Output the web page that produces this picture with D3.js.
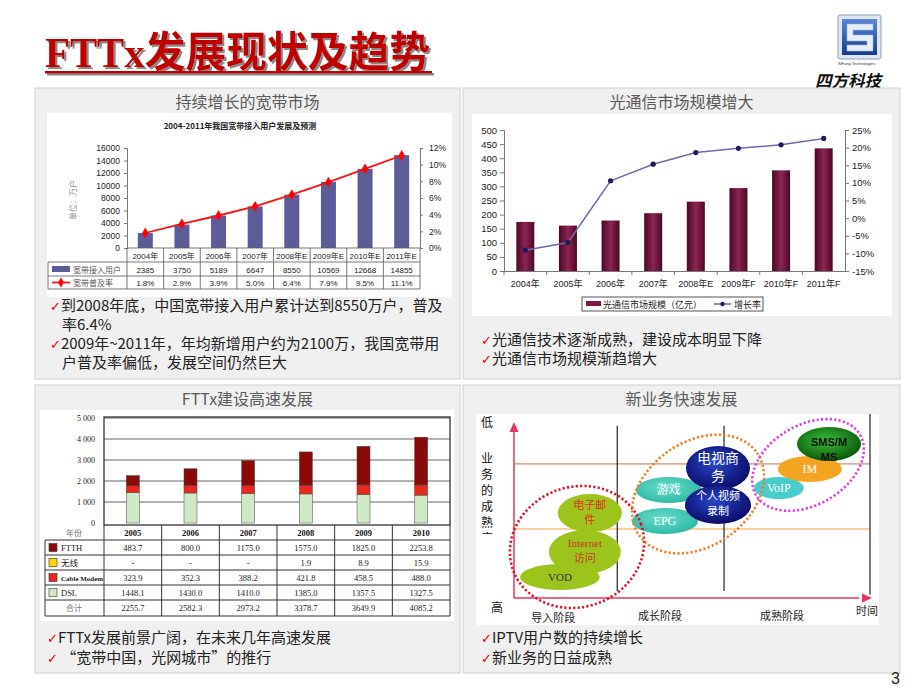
<!DOCTYPE html>
<html>
<head>
<meta charset="utf-8">
<script src="https://cdn.jsdelivr.net/npm/d3@7"></script>
<style>
body { margin: 0; background: #fff; }
svg { display: block; font-family: "Noto Sans CJK SC", sans-serif; }
</style>
</head>
<body>
<div class="render"></div>
<script>
"use strict";

// ---- panel 1: broadband users ----
var bbYears = ["2004年", "2005年", "2006年", "2007年", "2008年E", "2009年E", "2010年E", "2011年E"];
var bbUsers = [2385, 3750, 5189, 6647, 8550, 10569, 12668, 14855];
var bbRate = [1.8, 2.9, 3.9, 5.0, 6.4, 7.9, 9.5, 11.1];
var bbUserTicks = [0, 2000, 4000, 6000, 8000, 10000, 12000, 14000, 16000];
var bbRateTicks = [0, 2, 4, 6, 8, 10, 12];

// ---- panel 2: optical comms market ----
var ocYears = ["2004年", "2005年", "2006年", "2007年", "2008年E", "2009年F", "2010年F", "2011年F"];
var ocMarket = [174, 161, 179, 205, 246, 294, 357, 435];
var ocGrowth = [-9.1, -6.9, 10.6, 15.3, 18.6, 19.8, 20.8, 22.6];
var ocTicks = [0, 50, 100, 150, 200, 250, 300, 350, 400, 450, 500];
var ocGrowthTicks = [-15, -10, -5, 0, 5, 10, 15, 20, 25];

// ---- panel 3: FTTx build-out ----
var fxYears = ["2005", "2006", "2007", "2008", "2009", "2010"];
var fxFtth = [483.7, 800.0, 1175.0, 1575.0, 1825.0, 2253.8];
var fxWireless = [null, null, null, 1.9, 8.9, 15.9];
var fxCable = [323.9, 352.3, 388.2, 421.8, 458.5, 488.0];
var fxDsl = [1448.1, 1430.0, 1410.0, 1385.0, 1357.5, 1327.5];
var fxTotal = [2255.7, 2582.3, 2973.2, 3378.7, 3649.9, 4085.2];
var fxTicks = [0, 1000, 2000, 3000, 4000, 5000];

// ---- panel 4: new services (time stage 0-100, maturity 0-100) ----
var svcNames = ["电子邮件", "Internet访问", "VOD", "EPG", "游戏", "电视商务", "个人视频录制", "VoIP", "IM", "SMS/MMS"];
var svcLines = [["电子邮", "件"], ["Internet", "访问"], ["VOD"], ["EPG"], ["游戏"], ["电视商", "务"], ["个人视频", "录制"], ["VoIP"], ["IM"], ["SMS/M", "MS"]];
var svcStage = [21.3, 19.9, 12.9, 42.4, 43.5, 57.3, 57.3, 74.4, 83.1, 88.5];
var svcMaturity = [49.1, 26.6, 12.1, 44.5, 62.4, 75.1, 53.8, 63.6, 74.6, 89.0];
var svcSpreadX = [9.0, 10.1, 11.2, 9.3, 9.3, 9.0, 9.3, 7.0, 9.0, 9.0];
var svcSpreadY = [11.0, 12.7, 7.5, 7.5, 7.5, 12.7, 11.0, 6.4, 7.5, 9.8];
var stageNames = ["导入阶段", "成长阶段", "成熟阶段"];
var stageLabelAt = [11, 41, 75.3];
var stageBounds = [29, 59, 100];
var maturityLevels = [77.5, 39.9];
var groupStage = [17.7, 51.7, 82.6];
var groupMaturity = [29.5, 60.1, 76.9];
var groupSpreadX = [19.1, 20.2, 16.9];
var groupSpreadY = [34.7, 30.1, 23.1];
var groupTilt = [-20, -35, -30];

var SANS = '"Liberation Sans", "Noto Sans CJK SC", sans-serif';
var SERIF = '"Liberation Serif", "Noto Sans CJK SC", serif';

var svg = d3.select(".render").append("svg").attr("width", 920).attr("height", 690);
var defs = svg.append("defs");

function linGrad(id, stops, vertical) {
   var g = defs.append("linearGradient").attr("id", id)
      .attr("x1", 0).attr("y1", 0).attr("x2", vertical ? 0 : 1).attr("y2", vertical ? 1 : 0);
   stops.forEach(function (s) { g.append("stop").attr("offset", s[0]).attr("stop-color", s[1]); });
}
function radGrad(id, inner, outer) {
   var g = defs.append("radialGradient").attr("id", id).attr("cx", "45%").attr("cy", "40%").attr("r", "60%");
   g.append("stop").attr("offset", "0%").attr("stop-color", inner);
   g.append("stop").attr("offset", "100%").attr("stop-color", outer);
}
linGrad("maroon", [["0%", "#4a0822"], ["50%", "#8e2454"], ["100%", "#4a0822"]]);
linGrad("logoBlue", [["0%", "#5a88d8"], ["100%", "#143a88"]], true);
radGrad("navyBub", "#2a46c8", "#0a0c6a");
radGrad("greenBub", "#3cbf3c", "#0a5a0a");
radGrad("tealBub", "#6adccb", "#2fb9a6");
defs.append("filter").attr("id", "shadow").attr("x", "-5%").attr("y", "-10%").attr("width", "115%").attr("height", "130%")
   .append("feDropShadow").attr("dx", 2).attr("dy", 2).attr("stdDeviation", 0.4).attr("flood-color", "#8a8a8a").attr("flood-opacity", 1);
defs.append("clipPath").attr("id", "vclip").append("rect").attr("x", 470).attr("y", 440).attr("width", 40).attr("height", 94);

// ---- header ----
var head = svg.append("g").attr("filter", "url(#shadow)");
head.append("text").text("FTTx发展现状及趋势").attr("x", 45).attr("y", 67)
   .attr("textLength", 385).attr("lengthAdjust", "spacingAndGlyphs")
   .style("font-family", SERIF).style("font-size", "42px").style("font-weight", "bold").attr("fill", "#c00000");
head.append("rect").attr("x", 45).attr("y", 71).attr("width", 387).attr("height", 2.5).attr("fill", "#c00000");

// logo
svg.append("rect").attr("x", 838).attr("y", 15).attr("width", 43).attr("height", 44).attr("rx", 2)
   .attr("fill", "#dfe6f0").attr("stroke", "#8aa0c0");
svg.append("rect").attr("x", 842).attr("y", 19).attr("width", 35).attr("height", 36).attr("fill", "url(#logoBlue)");
svg.append("path").attr("d", "M847,24 h26 v6 h-20 v5 h20 v16 h-26 v-6 h20 v-4 h-20 z")
   .attr("fill", "#e8eef8").attr("stroke", "#9fb4d8").attr("stroke-width", 0.6);
svg.append("text").text("SiFang Technologies").attr("x", 838).attr("y", 65)
   .style("font-family", SANS).style("font-size", "4px").attr("fill", "#333");
svg.append("text").text("四方科技").attr("x", 815).attr("y", 87)
   .style("font-size", "16.5px").style("font-weight", "bold").style("font-style", "italic").attr("fill", "#111");

// ---- panels ----
var panels = [
   { x: 35, y: 88, w: 425, h: 291, title: "持续增长的宽带市场", inner: [47, 113, 405, 184] },
   { x: 463, y: 88, w: 437, h: 291, title: "光通信市场规模增大", inner: [472, 114, 420, 202] },
   { x: 35, y: 385, w: 425, h: 288, title: "FTTx建设高速发展", inner: [40, 410, 414, 211] },
   { x: 463, y: 385, w: 437, h: 288, title: "新业务快速发展", inner: [476, 414, 403, 211] }
];
panels.forEach(function (p) {
   svg.append("rect").attr("x", p.x).attr("y", p.y).attr("width", p.w).attr("height", p.h)
      .attr("fill", "#f0f0f0").attr("stroke", "#cfcfcf");
   svg.append("text").text(p.title).attr("x", p.x + p.w / 2).attr("y", p.y + 20).attr("text-anchor", "middle")
      .style("font-size", "16px").attr("fill", "#5a5a5a");
   svg.append("rect").attr("x", p.inner[0]).attr("y", p.inner[1]).attr("width", p.inner[2]).attr("height", p.inner[3])
      .attr("fill", "#fff");
});

// bullet notes
var notes = [
   [50, 311, true, "到2008年底，中国宽带接入用户累计达到8550万户，普及"],
   [62, 330, false, "率6.4%"],
   [50, 349, true, "2009年~2011年，年均新增用户约为2100万，我国宽带用"],
   [62, 368, false, "户普及率偏低，发展空间仍然巨大"],
   [481, 345, true, "光通信技术逐渐成熟，建设成本明显下降"],
   [481, 364, true, "光通信市场规模渐趋增大"],
   [47, 643, true, "FTTx发展前景广阔，在未来几年高速发展"],
   [47, 663, true, " “宽带中国，光网城市”的推行"],
   [481, 643, true, "IPTV用户数的持续增长"],
   [481, 663, true, "新业务的日益成熟"]
];
notes.forEach(function (n) {
   var t = svg.append("text").attr("x", n[0]).attr("y", n[1]).style("font-size", "15px").attr("fill", "#222");
   if (n[2]) t.append("tspan").text("✓").attr("fill", "#e00000").style("font-family", '"DejaVu Sans"').style("font-size", "13px");
   t.append("tspan").text(n[3]);
});
svg.append("text").text("3").attr("x", 891).attr("y", 684).style("font-family", SANS).style("font-size", "16px").attr("fill", "#222");

function styleAxis(g, size, family) {
   g.selectAll("text").style("font-size", size + "px").style("font-family", family).attr("fill", "#222");
   g.selectAll("path, line").attr("stroke", "#777");
}

// ================= panel 1 =================
var x1 = d3.scaleBand().domain(bbYears).range([127, 420]);
var y1 = d3.scaleLinear().domain([0, 16000]).range([248, 148]);
var y1r = d3.scaleLinear().domain([0, 12]).range([248, 148]);

svg.append("text").text("2004-2011年我国宽带接入用户发展及预测").attr("x", 240).attr("y", 129).attr("text-anchor", "middle")
   .style("font-size", "8px").style("font-weight", "bold").attr("fill", "#222");
svg.append("text").text("单位：万户").attr("transform", "translate(76,200)rotate(-90)").attr("text-anchor", "middle")
   .style("font-size", "8px").attr("fill", "#888");

styleAxis(svg.append("g").attr("transform", "translate(127,0)")
   .call(d3.axisLeft(y1).tickValues(bbUserTicks).tickSize(3).tickPadding(4).tickFormat(d3.format("d"))), 8.5, SANS);
styleAxis(svg.append("g").attr("transform", "translate(420,0)")
   .call(d3.axisRight(y1r).tickValues(bbRateTicks).tickSize(3).tickPadding(6).tickFormat(function (d) { return d + "%"; })), 8.5, SANS);

svg.selectAll(".bbbar").data(bbUsers).enter().append("rect").attr("class", "bbbar")
   .attr("x", function (d, i) { return x1(bbYears[i]) + x1.bandwidth() / 2 - 7.5; })
   .attr("y", function (d) { return y1(d); })
   .attr("width", 15)
   .attr("height", function (d) { return y1(0) - y1(d); })
   .attr("fill", "#5c5c98");

var line1 = d3.line()
   .x(function (d, i) { return x1(bbYears[i]) + x1.bandwidth() / 2; })
   .y(function (d) { return y1r(d); });
svg.append("path").datum(bbRate).attr("d", line1).attr("fill", "none").attr("stroke", "#ff1010").attr("stroke-width", 1.8);
svg.selectAll(".bbdot").data(bbRate).enter().append("path").attr("class", "bbdot")
   .attr("d", d3.symbol(d3.symbolDiamond, 34))
   .attr("transform", function (d, i) { return "translate(" + (x1(bbYears[i]) + x1.bandwidth() / 2) + "," + y1r(d) + ")"; })
   .attr("fill", "#ff0000");

// data table
var t1 = [248, 262, 276, 289];
var tg1 = svg.append("g").attr("stroke", "#555").attr("stroke-width", 0.8);
tg1.append("line").attr("x1", 127).attr("x2", 420).attr("y1", t1[0]).attr("y2", t1[0]);
[1, 2, 3].forEach(function (k) { tg1.append("line").attr("x1", 48).attr("x2", 420).attr("y1", t1[k]).attr("y2", t1[k]); });
tg1.append("line").attr("x1", 48).attr("x2", 48).attr("y1", t1[1]).attr("y2", t1[3]);
bbYears.forEach(function (y) { tg1.append("line").attr("x1", x1(y)).attr("x2", x1(y)).attr("y1", t1[0]).attr("y2", t1[3]); });
tg1.append("line").attr("x1", 420).attr("x2", 420).attr("y1", t1[0]).attr("y2", t1[3]);

function cellText(arr, rowY, fmt) {
   svg.append("g").selectAll("text").data(arr).enter().append("text")
      .text(fmt)
      .attr("x", function (d, i) { return x1(bbYears[i]) + x1.bandwidth() / 2; })
      .attr("y", rowY).attr("text-anchor", "middle")
      .style("font-family", SANS).style("font-size", "8px").attr("fill", "#222");
}
cellText(bbYears, 258.5, function (d) { return d; });
cellText(bbUsers, 272.5, function (d) { return d; });
cellText(bbRate, 286, function (d) { return d.toFixed(1) + "%"; });

svg.append("rect").attr("x", 52).attr("y", 266).attr("width", 18).attr("height", 6).attr("fill", "#5c5c98");
svg.append("text").text("宽带接入用户").attr("x", 73).attr("y", 272.5).style("font-size", "8px").attr("fill", "#555");
svg.append("line").attr("x1", 52).attr("x2", 70).attr("y1", 282.5).attr("y2", 282.5).attr("stroke", "#ff1010").attr("stroke-width", 1.8);
svg.append("path").attr("d", d3.symbol(d3.symbolDiamond, 30)).attr("transform", "translate(61,282.5)").attr("fill", "#ff0000");
svg.append("text").text("宽带普及率").attr("x", 73).attr("y", 286).style("font-size", "8px").attr("fill", "#555");

// ================= panel 2 =================
var x2 = d3.scaleBand().domain(ocYears).range([504, 845]);
var y2 = d3.scaleLinear().domain([0, 500]).range([271, 130]);
var y2r = d3.scaleLinear().domain([-15, 25]).range([271, 130]);

styleAxis(svg.append("g").attr("transform", "translate(504,0)")
   .call(d3.axisLeft(y2).tickValues(ocTicks).tickSize(4).tickPadding(3)), 9.5, SANS);
styleAxis(svg.append("g").attr("transform", "translate(845,0)")
   .call(d3.axisRight(y2r).tickValues(ocGrowthTicks).tickSize(4).tickPadding(3).tickFormat(function (d) { return d + "%"; })), 9.5, SANS);
var ax2 = svg.append("g").attr("transform", "translate(0,271)")
   .call(d3.axisBottom(x2).tickSize(0).tickPadding(10));
styleAxis(ax2, 9, SANS);
ocYears.forEach(function (y) {
   svg.append("line").attr("x1", x2(y)).attr("x2", x2(y)).attr("y1", 271).attr("y2", 275).attr("stroke", "#777");
});

svg.selectAll(".ocbar").data(ocMarket).enter().append("rect").attr("class", "ocbar")
   .attr("x", function (d, i) { return x2(ocYears[i]) + x2.bandwidth() / 2 - 9; })
   .attr("y", function (d) { return y2(d); })
   .attr("width", 18)
   .attr("height", function (d) { return y2(0) - y2(d); })
   .attr("fill", "url(#maroon)");

var line2 = d3.line()
   .x(function (d, i) { return x2(ocYears[i]) + x2.bandwidth() / 2; })
   .y(function (d) { return y2r(d); });
svg.append("path").datum(ocGrowth).attr("d", line2).attr("fill", "none").attr("stroke", "#6c6cae").attr("stroke-width", 1.5);
svg.selectAll(".ocdot").data(ocGrowth).enter().append("circle").attr("class", "ocdot")
   .attr("cx", function (d, i) { return x2(ocYears[i]) + x2.bandwidth() / 2; })
   .attr("cy", function (d) { return y2r(d); })
   .attr("r", 2.6).attr("fill", "#1c1c5c");

svg.append("rect").attr("x", 582).attr("y", 297).attr("width", 181).attr("height", 14).attr("fill", "#fff").attr("stroke", "#555");
svg.append("rect").attr("x", 586).attr("y", 301).attr("width", 15).attr("height", 5).attr("fill", "#7a1a44");
svg.append("text").text("光通信市场规模（亿元）").attr("x", 603).attr("y", 307.5).style("font-size", "9px").attr("fill", "#222");
svg.append("line").attr("x1", 714).attr("x2", 731).attr("y1", 304).attr("y2", 304).attr("stroke", "#6c6cae").attr("stroke-width", 1.5);
svg.append("circle").attr("cx", 722.5).attr("cy", 304).attr("r", 2.2).attr("fill", "#1c1c5c");
svg.append("text").text("增长率").attr("x", 734).attr("y", 307.5).style("font-size", "9px").attr("fill", "#222");

// ================= panel 3 =================
var x3 = d3.scaleBand().domain(fxYears).range([104, 450]);
var y3 = d3.scaleLinear().domain([0, 5000]).range([523, 418]);
var spaced = d3.formatLocale({ decimal: ".", thousands: " ", grouping: [3], currency: ["", ""] }).format(",");

svg.append("g").selectAll("line").data(fxTicks.slice(1)).enter().append("line")
   .attr("x1", 104).attr("x2", 450)
   .attr("y1", function (d) { return y3(d); }).attr("y2", function (d) { return y3(d); })
   .attr("stroke", "#555").attr("stroke-width", 0.9);
var ax3 = svg.append("g").attr("transform", "translate(104,0)")
   .call(d3.axisLeft(y3).tickValues(fxTicks).tickSize(0).tickPadding(9).tickFormat(spaced));
styleAxis(ax3, 8, SERIF);
ax3.select(".domain").remove();

var fxRows = fxYears.map(function (y, i) {
   return { year: y, dsl: fxDsl[i], cable: fxCable[i], wireless: fxWireless[i] || 0, ftth: fxFtth[i] };
});
var fxKeys = ["dsl", "cable", "wireless", "ftth"];
var fxColors = { dsl: "#cfe8c6", cable: "#e8281e", wireless: "#ffd400", ftth: "#8a0a0a" };
var fxStack = d3.stack().keys(fxKeys)(fxRows);
svg.append("g").selectAll("g").data(fxStack).enter().append("g")
   .attr("fill", function (s) { return fxColors[s.key]; })
   .selectAll("rect").data(function (s) { return s; }).enter().append("rect")
   .attr("x", function (d) { return x3(d.data.year) + x3.bandwidth() / 2 - 6.5; })
   .attr("y", function (d) { return y3(d[1]); })
   .attr("width", 13)
   .attr("height", function (d) { return y3(d[0]) - y3(d[1]); })
   .attr("stroke", "#444").attr("stroke-width", 0.5);

svg.append("rect").attr("x", 104).attr("y", 417).attr("width", 346).attr("height", 108)
   .attr("fill", "none").attr("stroke", "#333").attr("stroke-width", 1.3);

// table
var t3 = [525, 540, 555, 570, 585, 600, 616];
var tg3 = svg.append("g").attr("stroke", "#333").attr("stroke-width", 1);
for (var k = 1; k < t3.length; k++) {
   tg3.append("line").attr("x1", 45).attr("x2", 450).attr("y1", t3[k]).attr("y2", t3[k]);
}
tg3.append("line").attr("x1", 45).attr("x2", 45).attr("y1", t3[1]).attr("y2", t3[6]);
fxYears.forEach(function (y) { tg3.append("line").attr("x1", x3(y)).attr("x2", x3(y)).attr("y1", t3[0]).attr("y2", t3[6]); });
tg3.append("line").attr("x1", 450).attr("x2", 450).attr("y1", t3[0]).attr("y2", t3[6]);

var fxTableRows = [
   { label: "FTTH", vals: fxFtth, sw: fxColors.ftth },
   { label: "无线", vals: fxWireless, sw: fxColors.wireless },
   { label: "Cable Modem", vals: fxCable, sw: fxColors.cable },
   { label: "DSL", vals: fxDsl, sw: fxColors.dsl },
   { label: "合计", vals: fxTotal, sw: null }
];
svg.append("text").text("年份").attr("x", 74).attr("y", 536).attr("text-anchor", "middle")
   .style("font-size", "8px").attr("fill", "#777");
svg.append("g").selectAll("text").data(fxYears).enter().append("text").text(function (d) { return d; })
   .attr("x", function (d) { return x3(d) + x3.bandwidth() / 2; }).attr("y", 536).attr("text-anchor", "middle")
   .style("font-family", SERIF).style("font-size", "8.5px").style("font-weight", "bold").attr("fill", "#111");
fxTableRows.forEach(function (r, ri) {
   var cy = (t3[ri + 1] + t3[ri + 2]) / 2;
   if (r.sw) {
      svg.append("rect").attr("x", 49).attr("y", cy - 4).attr("width", 8).attr("height", 8)
         .attr("fill", r.sw).attr("stroke", "#333").attr("stroke-width", 0.6);
      svg.append("text").text(r.label).attr("x", 61).attr("y", cy + 3)
         .style("font-family", SERIF).style("font-size", r.label === "Cable Modem" ? "7px" : "8.5px")
         .style("font-weight", r.label === "Cable Modem" ? "bold" : "normal").attr("fill", "#222");
   } else {
      svg.append("text").text(r.label).attr("x", 74).attr("y", cy + 3).attr("text-anchor", "middle")
         .style("font-size", "8px").attr("fill", "#777");
   }
   svg.append("g").selectAll("text").data(r.vals).enter().append("text")
      .text(function (d) { return d === null ? "-" : d.toFixed(1); })
      .attr("x", function (d, i) { return x3(fxYears[i]) + x3.bandwidth() / 2; })
      .attr("y", cy + 3).attr("text-anchor", "middle")
      .style("font-family", SERIF).style("font-size", "8.5px").attr("fill", "#222");
});

// ================= panel 4 =================
var x4 = d3.scaleLinear().domain([0, 100]).range([514, 870]);
var y4 = d3.scaleLinear().domain([0, 100]).range([598, 425]);

// maturity bands and stage boundaries
svg.append("line").attr("x1", x4(0)).attr("x2", x4(100)).attr("y1", y4(maturityLevels[0])).attr("y2", y4(maturityLevels[0]))
   .attr("stroke", "#c8704a").attr("stroke-width", 1);
svg.append("line").attr("x1", x4(0)).attr("x2", x4(100)).attr("y1", y4(maturityLevels[1])).attr("y2", y4(maturityLevels[1]))
   .attr("stroke", "#f2a640").attr("stroke-width", 1);
svg.append("g").selectAll("line").data(stageBounds).enter().append("line")
   .attr("x1", function (d) { return x4(d); }).attr("x2", function (d) { return x4(d); })
   .attr("y1", function (d, i) { return i === 2 ? 414 : y4(99.5); })
   .attr("y2", function (d, i) { return i === 2 ? y4(2) : y4(4); })
   .attr("stroke", "#222").attr("stroke-width", 1.2);

// axes with arrows
svg.append("line").attr("x1", x4(0)).attr("x2", x4(0)).attr("y1", y4(0)).attr("y2", y4(96)).attr("stroke", "#e8335e").attr("stroke-width", 1.5);
svg.append("line").attr("x1", x4(0)).attr("x2", x4(97)).attr("y1", y4(0)).attr("y2", y4(0)).attr("stroke", "#e8335e").attr("stroke-width", 1.5);
svg.append("path").attr("d", "M" + x4(0) + "," + (y4(100) - 3) + " l-4.5,10 h9 z").attr("fill", "#e8335e");
svg.append("path").attr("d", "M" + (x4(100) + 2) + "," + y4(0) + " l-10,-4.5 v9 z").attr("fill", "#e8335e");

svg.append("text").text("低").attr("x", 487).attr("y", 427).attr("text-anchor", "middle").style("font-size", "12px").attr("fill", "#111");
svg.append("text").text("高").attr("x", 497).attr("y", 612).attr("text-anchor", "middle").style("font-size", "12px").attr("fill", "#111");
var vtext = svg.append("g").attr("clip-path", "url(#vclip)");
"业务的成熟度".split("").forEach(function (c, i) {
   vtext.append("text").text(c).attr("x", 487).attr("y", 463 + i * 16).attr("text-anchor", "middle")
      .style("font-size", "12px").attr("fill", "#111");
});
svg.append("g").selectAll("text").data(stageNames).enter().append("text").text(function (d) { return d; })
   .attr("x", function (d, i) { return x4(stageLabelAt[i]); })
   .attr("y", function (d, i) { return i === 0 ? 622 : 620; })
   .attr("text-anchor", "middle").style("font-size", "11px").attr("fill", "#222");
svg.append("text").text("时间").attr("x", 867).attr("y", 615).attr("text-anchor", "middle").style("font-size", "11px").attr("fill", "#222");

// service bubbles
var svcFill = ["#9cc41c", "#9cc41c", "#9cc41c", "url(#tealBub)", "url(#tealBub)", "url(#navyBub)", "url(#navyBub)", "#48cccc", "#f5a422", "url(#greenBub)"];
var svcInk = ["#e03020", "#c43a22", "#333", "#fff", "#fff", "#fff", "#fff", "#fff", "#fff", "#111"];
var svcSize = [11, 11, 11, 12, 12, 14, 11, 12, 12, 11];
svcNames.forEach(function (name, i) {
   var cx = x4(svcStage[i]), cy = y4(svcMaturity[i]);
   var rx = x4(svcSpreadX[i]) - x4(0), ry = y4(0) - y4(svcSpreadY[i]);
   defs.append("clipPath").attr("id", "bub" + i)
      .append("ellipse").attr("cx", cx).attr("cy", cy).attr("rx", rx).attr("ry", ry);
   svg.append("ellipse").attr("cx", cx).attr("cy", cy).attr("rx", rx).attr("ry", ry).attr("fill", svcFill[i]);
   var lines = svcLines[i];
   var lh = svcSize[i] + 4;
   var top = cy + svcSize[i] * 0.36;
   if (lines.length > 1) top = cy - lh / 2 + svcSize[i] * 0.36 - 1;
   if (i === 9) top = cy + 2;
   var tx = svg.append("g").attr("clip-path", "url(#bub" + i + ")");
   lines.forEach(function (ln, k) {
      tx.append("text").text(ln).attr("x", cx).attr("y", top + k * lh).attr("text-anchor", "middle")
         .style("font-family", i === 9 ? SANS : SERIF)
         .style("font-size", svcSize[i] + "px")
         .style("font-weight", i === 9 ? "bold" : "normal")
         .attr("fill", svcInk[i]);
   });
});

// stage groupings (dotted)
var groupColor = ["#e0142c", "#f08028", "#e040e0"];
groupStage.forEach(function (g, i) {
   svg.append("ellipse")
      .attr("transform", "translate(" + x4(g) + "," + y4(groupMaturity[i]) + ")rotate(" + groupTilt[i] + ")")
      .attr("rx", x4(groupSpreadX[i]) - x4(0)).attr("ry", y4(0) - y4(groupSpreadY[i]))
      .attr("fill", "none").attr("stroke", groupColor[i]).attr("stroke-width", 2.6).attr("stroke-dasharray", "2.2,2.2");
});
</script>
</body>
</html>
